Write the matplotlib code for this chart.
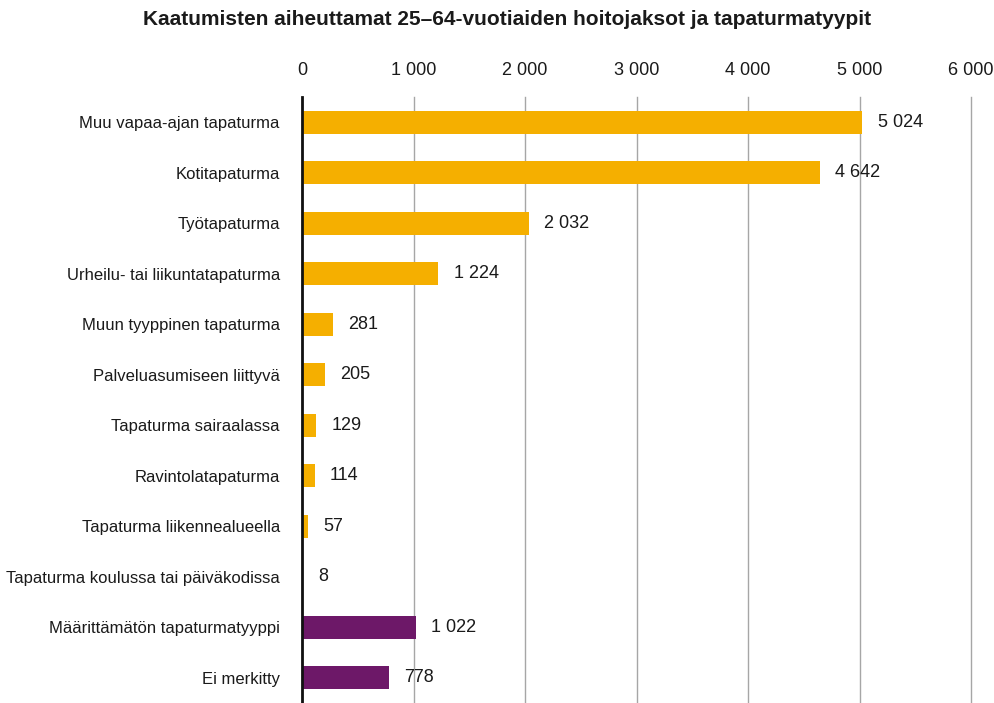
import matplotlib
matplotlib.use("Agg")
import matplotlib.pyplot as plt
from matplotlib.ticker import FuncFormatter

plt.rcParams['font.family'] = ['Liberation Sans', 'DejaVu Sans']

categories = [
    "Muu vapaa-ajan tapaturma",
    "Kotitapaturma",
    "Työtapaturma",
    "Urheilu- tai liikuntatapaturma",
    "Muun tyyppinen tapaturma",
    "Palveluasumiseen liittyvä",
    "Tapaturma sairaalassa",
    "Ravintolatapaturma",
    "Tapaturma liikennealueella",
    "Tapaturma koulussa tai päiväkodissa",
    "Määrittämätön tapaturmatyyppi",
    "Ei merkitty",
]
values = [5024, 4642, 2032, 1224, 281, 205, 129, 114, 57, 8, 1022, 778]
groups = ["known"] * 10 + ["unknown"] * 2
group_colors = {"known": "#F5AF00", "unknown": "#6D1868"}
ticks = [0, 1000, 2000, 3000, 4000, 5000, 6000]


def fmt(v, pos=None):
    return f"{int(v):,}".replace(",", " ")


fig = plt.figure(figsize=(9.95, 7.03), dpi=100)
ax = fig.add_axes([0.3035, 0.0, 0.6725, 0.862])

ypos = list(range(len(categories)))
colors = [group_colors[g] for g in groups]
ax.barh(ypos, values, height=0.45, color=colors, zorder=2)

# value labels just right of each bar
for y, v in zip(ypos, values):
    ax.annotate(fmt(v), (v, y), xytext=(11, 0), textcoords="offset points",
                va="center", ha="left", fontsize=13, color="#1a1a1a")

ax.set_xlim(0, 6000)
ax.set_ylim(11.5, -0.5)
ax.set_xticks(ticks)
ax.xaxis.set_major_formatter(FuncFormatter(fmt))
ax.xaxis.tick_top()
ax.tick_params(axis="x", length=0, pad=13, labelsize=13, colors="#1a1a1a")
ax.set_yticks(ypos)
ax.set_yticklabels(categories)
ax.tick_params(axis="y", length=0, pad=16, labelsize=12, colors="#1a1a1a")

ax.grid(axis="x", color="#A6A6A6", linewidth=1, zorder=0)
for line in ax.get_xgridlines():
    line.set_clip_on(False)
for s in ["top", "right", "bottom"]:
    ax.spines[s].set_visible(False)
ax.spines["left"].set_linewidth(2)
ax.spines["left"].set_color("#111111")
ax.spines["left"].set_zorder(3)

fig.text(0.51, 0.972, "Kaatumisten aiheuttamat 25–64-vuotiaiden hoitojaksot ja tapaturmatyypit",
         ha="center", va="center", fontsize=15, fontweight="bold", color="#1a1a1a")

fig.savefig("out.png", dpi=100)
